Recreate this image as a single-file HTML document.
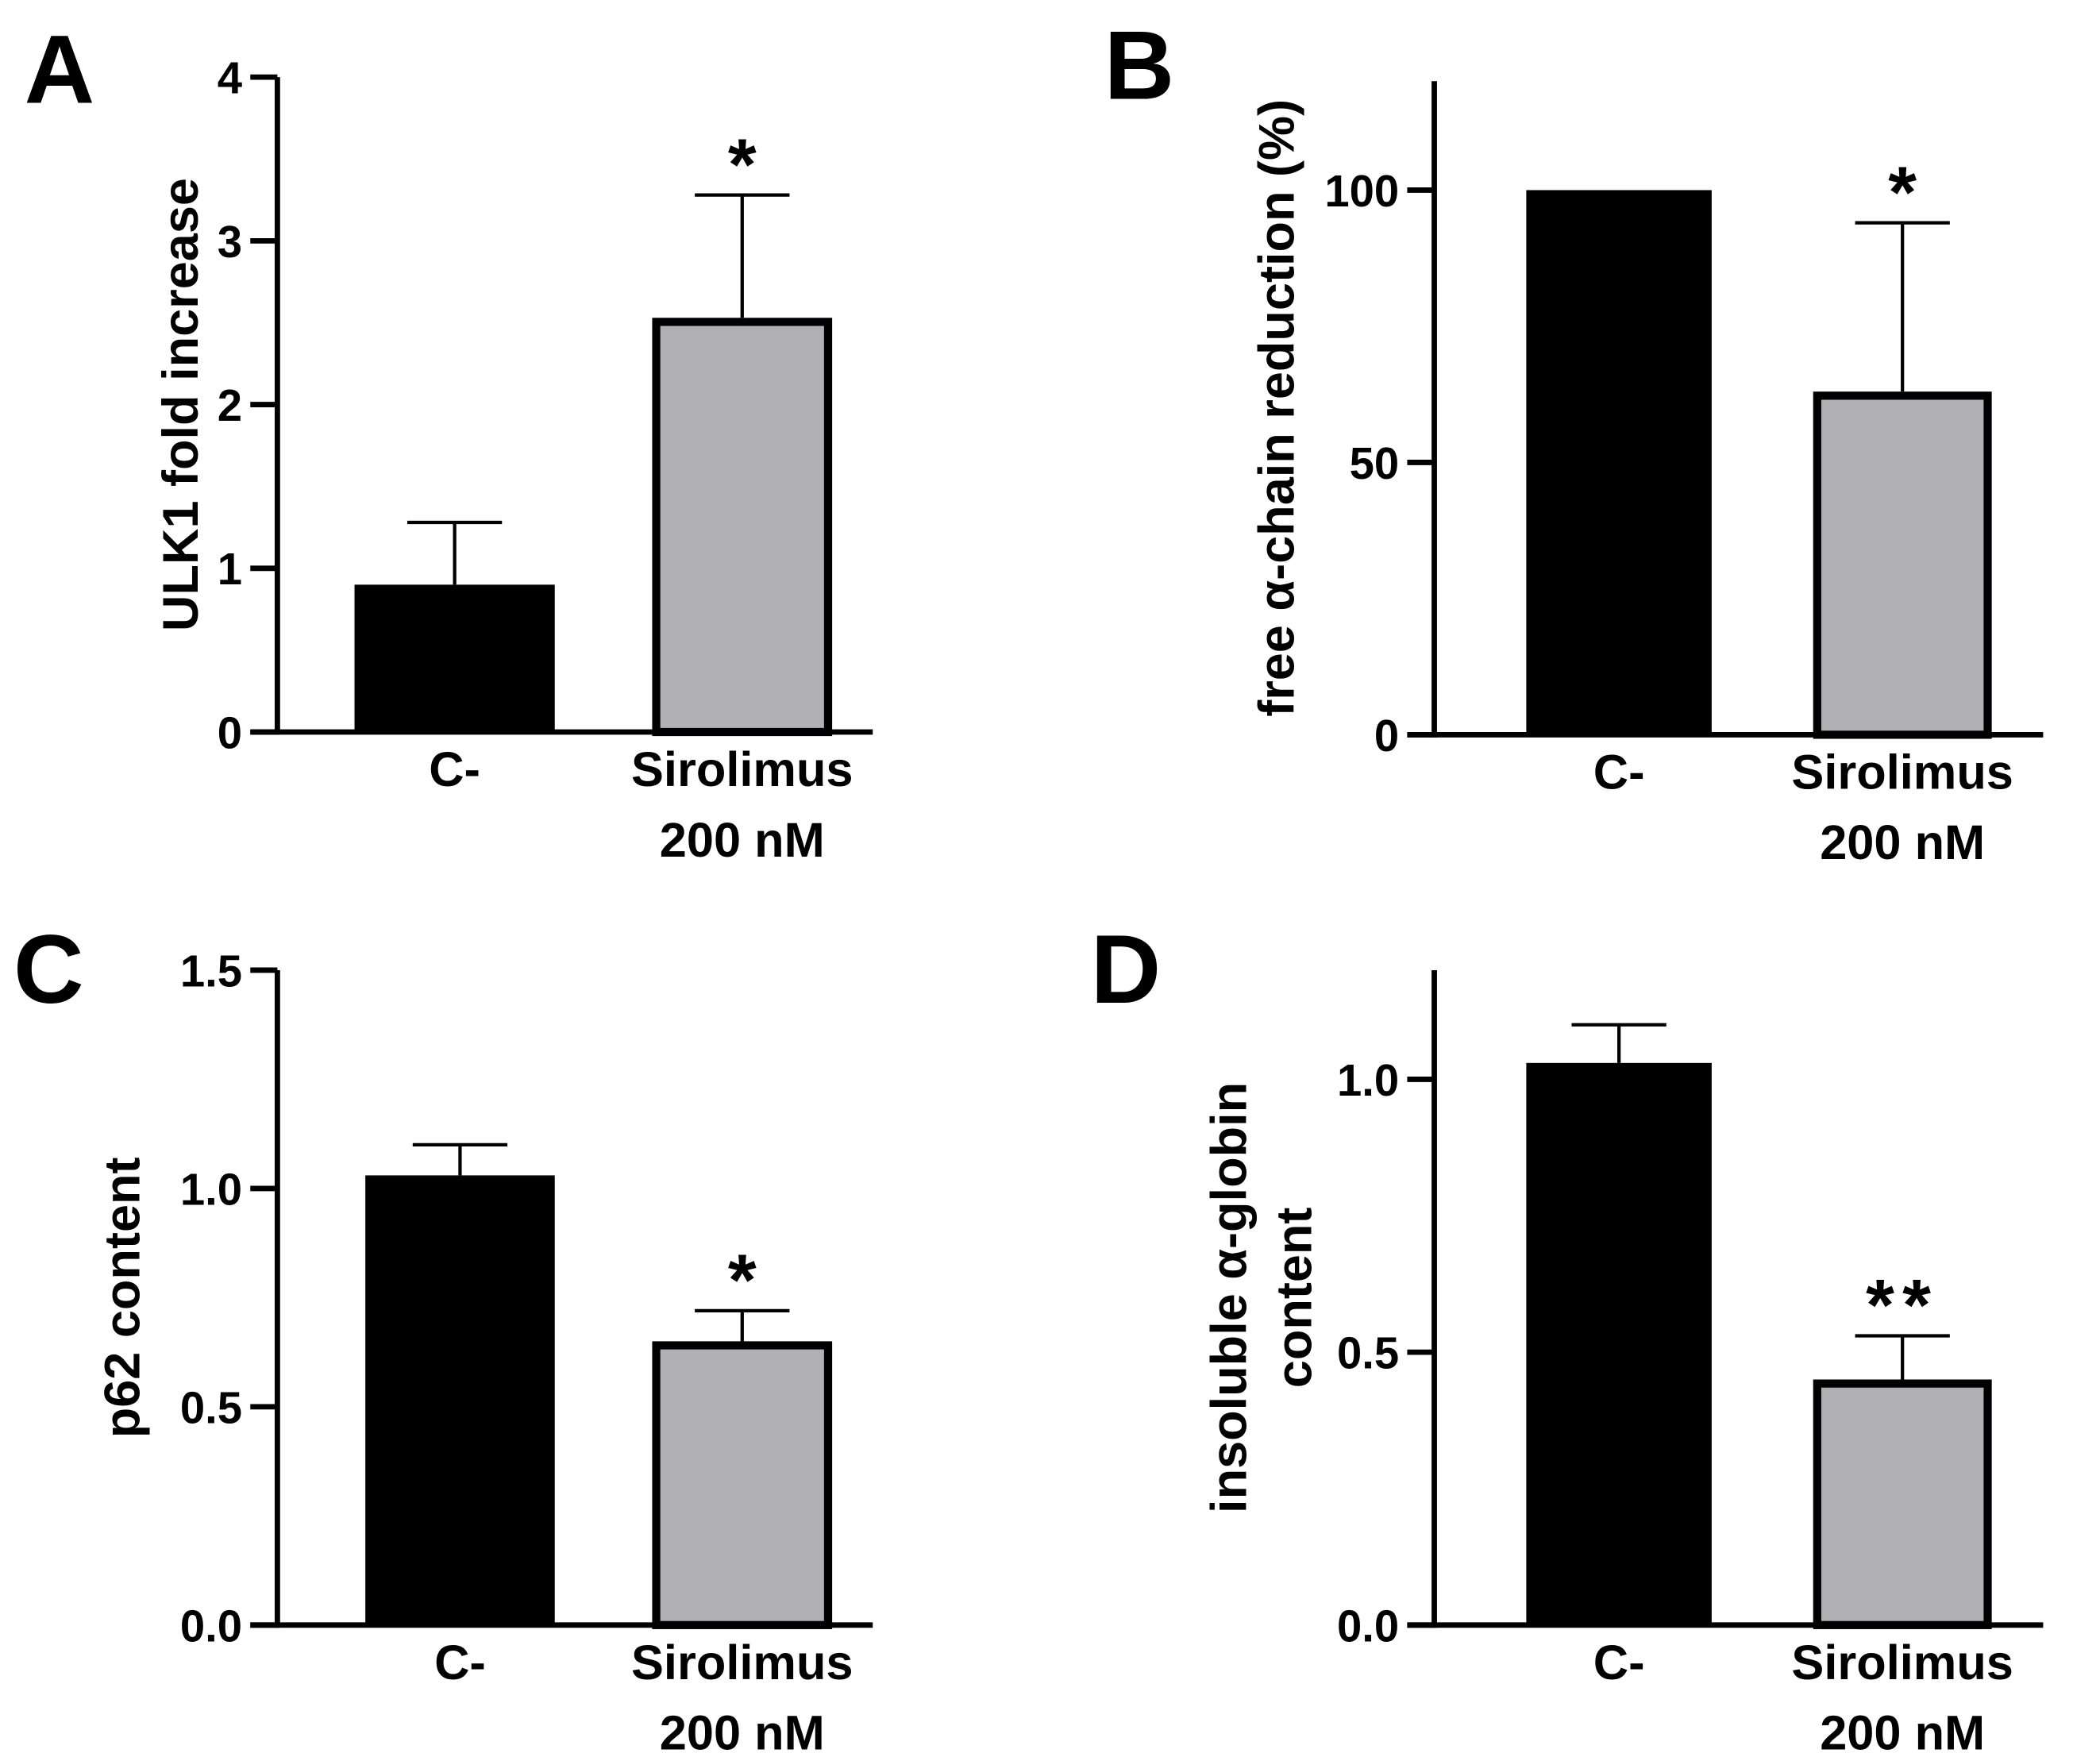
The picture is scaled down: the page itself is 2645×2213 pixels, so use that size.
<!DOCTYPE html>
<html><head><meta charset="utf-8"><style>
html,body{margin:0;padding:0;background:#fff}
svg{display:block}
text{font-family:"Liberation Sans",sans-serif;font-weight:bold;fill:#000}
</style></head><body>
<svg id="fig" width="2645" height="2213" viewBox="0 0 1552 1298.5" preserveAspectRatio="none" xmlns="http://www.w3.org/2000/svg"></svg>
<script>
const categories = ["C-", "Sirolimus"];
const ulk1Values = [0.9, 2.53];
const ulk1Errors = [0.38, 0.75];
const alphaValues = [100, 63];
const alphaErrors = [0, 31];
const p62Values = [1.03, 0.65];
const p62Errors = [0.07, 0.07];
const insolValues = [1.03, 0.45];
const insolErrors = [0.07, 0.08];
const ticksA = ["0","1","2","3","4"];
const ticksB = ["0","50","100"];
const ticksC = ["0.0","0.5","1.0","1.5"];
const ticksD = ["0.0","0.5","1.0"];
const starsLabels = ["*","*","*","**"];

const NS="http://www.w3.org/2000/svg";
const svg=document.getElementById('fig');
function mk(tag,attrs,parent){const e=document.createElementNS(NS,tag);for(const k in attrs)e.setAttribute(k,attrs[k]);(parent||svg).appendChild(e);return e;}

const panels=[
 {id:'a',letter:'A',lx:18,ly:76,ax:205,top:57,bottom:541,xend:645,max:4,ticks:ticksA,vals:ulk1Values,errs:ulk1Errors,bars:[[262,410],[482,615]],titles:["ULK1 fold increase"],tx:[133],star:starsLabels[0],axisTop:57},
 {id:'b',letter:'B',lx:816,ly:73,ax:1060,top:60,bottom:543,xend:1510,max:120,ticks:ticksB,vals:alphaValues,errs:alphaErrors,bars:[[1128,1265],[1340,1472]],titles:["free α-chain reduction (%)"],tx:[943],star:starsLabels[1],axisTop:60},
 {id:'c',letter:'C',lx:10,ly:741,ax:205,top:717,bottom:1201,xend:645,max:1.5,ticks:ticksC,vals:p62Values,errs:p62Errors,bars:[[270,410],[482,615]],titles:["p62 content"],tx:[90],star:starsLabels[2],axisTop:717},
 {id:'d',letter:'D',lx:806,ly:741,ax:1060,top:717,bottom:1201,xend:1510,max:1.2,ticks:ticksD,vals:insolValues,errs:insolErrors,bars:[[1128,1265],[1340,1472]],titles:["insoluble α-globin","content"],tx:[908,956],star:starsLabels[3],axisTop:717}
];

panels.forEach(p=>{
 const g=mk('g',{});
 
 
 const y=v=>p.bottom-(v/p.max)*(p.bottom-p.top);
 const L=mk('text',{x:p.lx,y:p.ly,'font-size':72},g);L.textContent=p.letter;
 
 
 p.vals.forEach((v,i)=>{
  const [x0,x1]=p.bars[i];const cx=(x0+x1)/2;
  const er=mk('line',{x1:cx,x2:cx,y1:y(v),y2:y(v+p.errs[i]),stroke:'#000','stroke-width':2.5},g);
  
  
  if(p.errs[i]>0){const cap=mk('line',{x1:cx-35,x2:cx+35,y1:y(v+p.errs[i]),y2:y(v+p.errs[i]),stroke:'#000','stroke-width':2.5},g);
   
   }
  let r;
  if(i===0){r=mk('rect',{x:x0,y:y(v),width:x1-x0,height:p.bottom-y(v),fill:'#000'},g);}
  else{r=mk('rect',{x:x0+3,y:y(v)+3,width:x1-x0-6,height:p.bottom-y(v)-3,fill:'#b0afb4',stroke:'#000','stroke-width':6},g);}
  
  
 });
 const sv=p.vals[1]+p.errs[1];
 const st=mk('text',{x:(p.bars[1][0]+p.bars[1][1])/2,y:y(sv)-4,'font-size':54,'text-anchor':'middle','letter-spacing':p.star.length>1?6:0},g);
 st.textContent=p.star;
 
 
 const ya=mk('line',{x1:p.ax,x2:p.ax,y1:p.axisTop,y2:p.bottom+2,stroke:'#000','stroke-width':4},g);
 
 
 const xa=mk('line',{x1:p.ax-20,x2:p.xend,y1:p.bottom,y2:p.bottom,stroke:'#000','stroke-width':4},g);
 
 
 p.ticks.forEach(t=>{
  const ty=y(parseFloat(t));
  const tl=mk('line',{x1:p.ax-20,x2:p.ax,y1:ty,y2:ty,stroke:'#000','stroke-width':4},g);
  
  
  const tt=mk('text',{x:p.ax-26,y:ty+12,'font-size':33,'text-anchor':'end'},g);tt.textContent=t;
  
  
 });
 const c0=(p.bars[0][0]+p.bars[0][1])/2, c1=(p.bars[1][0]+p.bars[1][1])/2;
 const l0=mk('text',{x:c0,y:p.bottom+40,'font-size':36,'text-anchor':'middle'},g);l0.textContent=categories[0];
 
 
 const l1=mk('text',{x:c1,y:p.bottom+40,'font-size':36,'text-anchor':'middle'},g);l1.textContent=categories[1];
 
 
 const l2=mk('text',{x:c1,y:p.bottom+92,'font-size':36,'text-anchor':'middle'},g);l2.textContent="200 nM";
 
 
 const midY=(p.top+p.bottom)/2;
 p.titles.forEach((tt,k)=>{
  const t=mk('text',{x:p.tx[k],y:midY,'font-size':37,'text-anchor':'middle',transform:`rotate(-90 ${p.tx[k]} ${midY})`,dy:13},g);
  t.textContent=tt;
  
  
 });
});
</script>
</body></html>
